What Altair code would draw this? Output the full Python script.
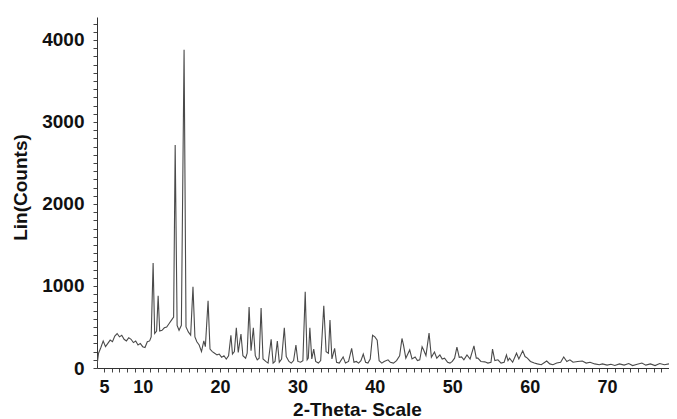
import altair as alt
import pandas as pd

# 2-theta positions (degrees) and intensities (counts)
two_theta = [
    4.1, 4.3, 4.6, 4.9, 5.2, 5.5, 5.8, 6.1, 6.4, 6.7, 7.0, 7.3, 7.6, 7.9, 8.2, 8.5, 8.8, 9.1, 9.4, 9.7,
    10.0, 10.3, 10.6, 10.9, 11.1, 11.35, 11.55, 11.8, 12.0, 12.2, 12.5, 12.8, 13.1, 13.4, 13.7, 14.0,
    14.2, 14.45, 14.7, 15.0, 15.35, 15.6, 15.9, 16.2, 16.5, 16.75, 17.0, 17.3, 17.6, 17.9, 18.1, 18.45,
    18.7, 19.0, 19.3, 19.6, 19.9, 20.2, 20.5, 20.8, 21.1, 21.4, 21.6, 21.85, 22.1, 22.35, 22.7, 22.95,
    23.3, 23.5, 23.75, 24.0, 24.3, 24.55, 24.8, 25.05, 25.3, 25.55, 25.9, 26.2, 26.6, 26.85, 27.1, 27.4,
    27.65, 27.95, 28.3, 28.55, 28.9, 29.2, 29.5, 29.8, 30.05, 30.4, 30.7, 31.0, 31.25, 31.4, 31.6, 31.85,
    32.1, 32.35, 32.7, 33.0, 33.4, 33.7, 34.0, 34.2, 34.45, 34.8, 35.05, 35.4, 35.9, 36.2, 36.6, 37.0,
    37.3, 37.6, 37.9, 38.2, 38.5, 38.8, 39.1, 39.4, 39.7, 40.0, 40.3, 40.55, 40.9, 41.2, 41.7, 42.0,
    42.4, 42.8, 43.2, 43.5, 43.7, 44.0, 44.5, 44.8, 45.2, 45.5, 45.8, 46.1, 46.3, 46.6, 47.0, 47.3,
    47.7, 48.0, 48.4, 48.7, 49.0, 49.4, 49.7, 50.0, 50.3, 50.6, 50.9, 51.2, 51.5, 51.9, 52.3, 52.8,
    53.1, 53.3, 53.7, 54.2, 54.6, 55.0, 55.2, 55.5, 55.9, 56.3, 56.7, 57.0, 57.2, 57.4, 57.8, 58.3,
    58.6, 59.1, 59.4, 59.7, 60.1, 60.6, 61.0, 61.5, 62.2, 62.6, 63.0, 63.5, 64.0, 64.4, 64.8, 65.2,
    65.6, 66.2, 66.8, 67.3, 67.8, 68.4, 69.0, 69.4, 70.0, 70.5, 71.0, 71.6, 72.2, 72.8, 73.3, 73.9,
    74.5, 75.0, 75.6, 76.2, 76.8, 77.4, 78.0,
]
counts = [
    30, 180, 250, 330, 260, 300, 340, 320, 390, 420, 380, 400, 350, 330, 370, 350, 310, 330, 280, 300,
    260, 250, 320, 330, 380, 1280, 420, 450, 880, 450, 460, 490, 500, 540, 580, 620,
    2720, 520, 460, 520, 3880, 500, 440, 400, 990, 380, 320, 280, 200, 330, 260, 820,
    230, 200, 180, 160, 170, 130, 150, 110, 150, 400, 170, 200, 490, 190, 415, 150,
    120, 180, 745, 210, 490, 150, 100, 120, 730, 110, 80, 60, 350, 60, 80, 330,
    70, 110, 490, 140, 80, 60, 90, 280, 80, 70, 90, 930, 100, 120, 490, 110,
    230, 80, 60, 90, 760, 200, 180, 585, 110, 240, 70, 60, 135, 60, 80, 240,
    70, 80, 60, 90, 170, 70, 60, 110, 400, 380, 340, 90, 60, 80, 100, 70,
    60, 90, 150, 360, 280, 120, 220, 110, 135, 90, 100, 260, 220, 150, 425, 130,
    195, 120, 160, 110, 120, 70, 60, 80, 120, 255, 130, 135, 100, 160, 110, 270,
    120, 120, 80, 75, 60, 70, 230, 90, 100, 60, 70, 160, 90, 120, 70, 180,
    110, 210, 140, 120, 80, 60, 50, 40, 85, 50, 40, 60, 70, 135, 80, 100,
    70, 80, 85, 60, 70, 50, 40, 50, 35, 45, 30, 50, 35, 55, 30, 45,
    60, 35, 50, 30, 55, 40, 50,
]

x_ticks = list(range(5, 79))
x_labels = [5, 10, 20, 30, 40, 50, 60, 70]
y_ticks = list(range(0, 4300, 100))
y_labels = [0, 1000, 2000, 3000, 4000]

df = pd.DataFrame({"two_theta": two_theta, "counts": counts})

FONT = "Liberation Sans"

x_label_expr = "indexof(" + str(x_labels) + ", datum.value) >= 0 ? format(datum.value, 'd') : ''"
y_label_expr = "indexof(" + str(y_labels) + ", datum.value) >= 0 ? format(datum.value, 'd') : ''"

chart = (
    alt.Chart(df)
    .mark_line(color="#4a4a4a", strokeWidth=1.1, clip=True)
    .encode(
        x=alt.X(
            "two_theta:Q",
            scale=alt.Scale(domain=[4.1, 78], nice=False, zero=False),
            axis=alt.Axis(
                title="2-Theta- Scale",
                values=x_ticks,
                labelExpr=x_label_expr,
                labelOverlap=False,
                labelFlush=False,
                labelFontSize=18,
                labelPadding=6,
                tickSize=4,
                titleFontSize=19,
                titleX=260,
                titleY=47,
                titleAlign="center",
                titleBaseline="alphabetic",
                grid=False,
            ),
        ),
        y=alt.Y(
            "counts:Q",
            scale=alt.Scale(domain=[0, 4280], nice=False),
            axis=alt.Axis(
                title="Lin(Counts)",
                values=y_ticks,
                labelExpr=y_label_expr,
                labelOverlap=False,
                labelFlush=False,
                labelFontSize=19,
                labelPadding=9,
                tickSize=4,
                titleFontSize=19,
                titleAngle=270,
                titleX=-77,
                titleY=170,
                titleAlign="center",
                titleBaseline="middle",
                grid=False,
            ),
        ),
    )
    .properties(
        width=572,
        height=351,
        autosize=alt.AutoSizeParams(type="none"),
        padding={"left": 89, "top": 9, "right": 0, "bottom": 50},
    )
    .configure_view(stroke=None)
    .configure_axis(
        labelFont=FONT,
        titleFont=FONT,
        labelFontWeight="bold",
        titleFontWeight="bold",
        labelColor="#111111",
        titleColor="#111111",
        domainColor="#333333",
        tickColor="#444444",
        domainWidth=1,
        tickWidth=1,
    )
)

chart.save("out.html", embed_options={"renderer": "svg", "actions": False})
